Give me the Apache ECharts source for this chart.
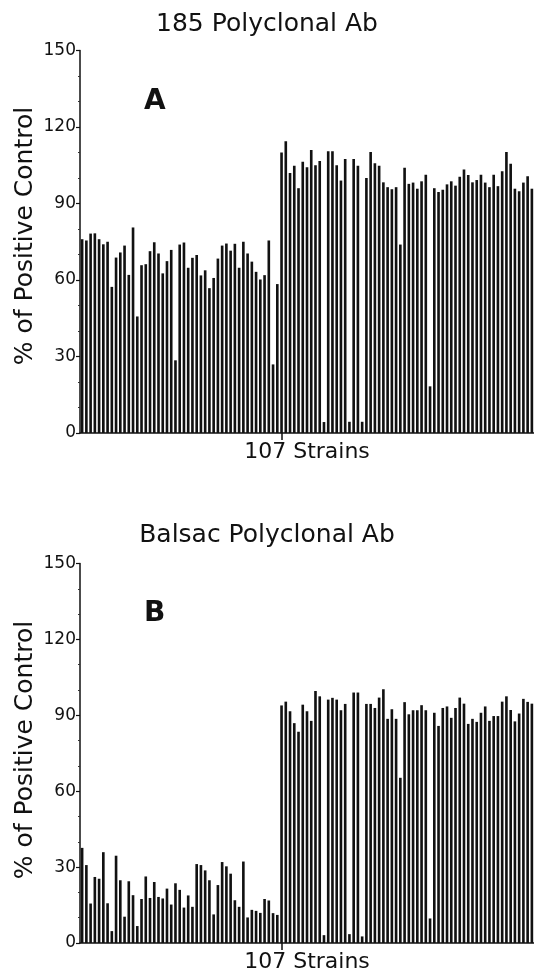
<!DOCTYPE html>
<html><head><meta charset="utf-8">
<script src="https://cdn.jsdelivr.net/npm/echarts@6/dist/echarts.min.js"></script>
<style>html,body{margin:0;padding:0;background:#fff}#c{width:534px;height:974px}</style>
</head><body><div id="c"></div>
<script>
const strains = Array.from({length:107},(_,i)=>'Strain '+(i+1));
const yTicks = [0,30,60,90,120,150];
const titleA = '185 Polyclonal Ab';
const titleB = 'Balsac Polyclonal Ab';
const yName = '% of Positive Control';
const xName = '107 Strains';
const valuesA = [
76,75.5,78.2,78.3,76,74,75,57.3,68.8,70.8,73.5,62,80.6,45.7,65.8,66.2,71.3,74.8,70.4,62.6,
67.4,71.8,28.5,73.9,74.7,64.8,68.7,69.8,61.8,63.8,56.8,60.8,68.4,73.5,74.3,71.5,74.2,64.8,75,70.4,
67.2,63.2,60.2,61.9,75.5,26.9,58.4,110,114.4,102,104.8,96,106.4,104.2,111,105,106.7,4.3,110.5,110.5,
105,99,107.5,4.4,107.5,104.8,4.4,100,110.2,105.8,104.8,98.3,96.4,95.6,96.4,73.9,104,97.7,98.2,95.8,
98.7,101.3,18.3,96,94.5,95.4,97.5,98.7,97,100.5,103.3,101.2,98.3,99.2,101.3,98.2,96.4,101.3,96.8,102.6,
110.2,105.6,95.8,94.8,98.2,100.7,95.8
];
const valuesB = [
37.6,30.8,15.6,26.1,25.4,35.9,15.7,4.7,34.5,24.8,10.4,24.4,18.9,6.7,17.4,26.3,17.8,24.1,18.2,17.6,
21.5,15.2,23.6,21,14,18.8,14.3,31.2,30.8,28.7,24.8,11.3,22.9,32,30.3,27.4,16.9,14.3,32.2,10.1,
13.1,12.7,11.9,17.4,16.8,11.8,11.1,93.9,95.4,91.6,86.9,83.5,94.2,91.6,87.8,99.6,97.5,3.1,96.2,96.9,
96.2,92,94.5,3.5,99,99,2.6,94.5,94.5,92.9,97,100.3,88.6,92.4,88.6,65.3,95.2,90.4,92,92,
94,92,9.7,91,85.8,92.9,93.5,89,92.9,97,94.6,86.6,88.6,87.4,91,93.5,87.8,89.7,89.7,95.4,
97.5,92.1,87.6,90.7,96.5,95.3,94.6
];
const FONT = 'DejaVu Sans';
const chart = echarts.init(document.getElementById('c'), null, {renderer:'canvas'});
function xAx(gi){
  return {type:'category', gridIndex:gi, data:strains, boundaryGap:true,
    name:xName, nameLocation:'middle', nameGap:8,
    nameTextStyle:{fontFamily:FONT,fontSize:22,color:'#111',verticalAlign:'top'},
    axisLine:{lineStyle:{color:'#111',width:1.5}},
    axisTick:{show:true,alignWithLabel:true,interval:(i)=>i===47,length:7,lineStyle:{color:'#111',width:1.5}},
    axisLabel:{show:false}};
}
function yAx(gi){
  return {type:'value', gridIndex:gi, min:yTicks[0], max:yTicks[yTicks.length-1], interval:30,
    axisLine:{show:true,lineStyle:{color:'#111',width:1.5}},
    axisTick:{show:true,length:4,lineStyle:{color:'#111',width:1.2}},
    minorTick:{show:true,splitNumber:3,length:2,lineStyle:{color:'#333',width:1}},
    axisLabel:{fontFamily:FONT,fontSize:17,color:'#111',margin:4},
    splitLine:{show:false}};
}
chart.setOption({
  animation:false,
  backgroundColor:'#fff',
  title:[
    {text:titleA,left:'center',top:7,textStyle:{fontFamily:FONT,fontSize:25,fontWeight:'normal',color:'#111'}},
    {text:titleB,left:'center',top:518,textStyle:{fontFamily:FONT,fontSize:25,fontWeight:'normal',color:'#111'}}
  ],
  graphic:[
    {type:'text',left:144,top:88,style:{text:'A',font:'bold 28px "DejaVu Sans"',fill:'#111'}},
    {type:'text',left:144,top:600,style:{text:'B',font:'bold 28px "DejaVu Sans"',fill:'#111'}},
    {type:'text',x:25,y:236,rotation:Math.PI/2,style:{text:yName,font:'25px "DejaVu Sans"',fill:'#111',align:'center',verticalAlign:'middle'}},
    {type:'text',x:25,y:750,rotation:Math.PI/2,style:{text:yName,font:'25px "DejaVu Sans"',fill:'#111',align:'center',verticalAlign:'middle'}}
  ],
  grid:[
    {left:80,width:454,top:50.5,height:382.5},
    {left:80,width:454,top:563.5,height:381.5}
  ],
  xAxis:[xAx(0),xAx(1)],
  yAxis:[yAx(0),yAx(1)],
  series:[
    {type:'bar',xAxisIndex:0,yAxisIndex:0,data:valuesA,barWidth:'62%',itemStyle:{color:'#111'}},
    {type:'bar',xAxisIndex:1,yAxisIndex:1,data:valuesB,barWidth:'62%',itemStyle:{color:'#111'}}
  ]
});
</script></body></html>
